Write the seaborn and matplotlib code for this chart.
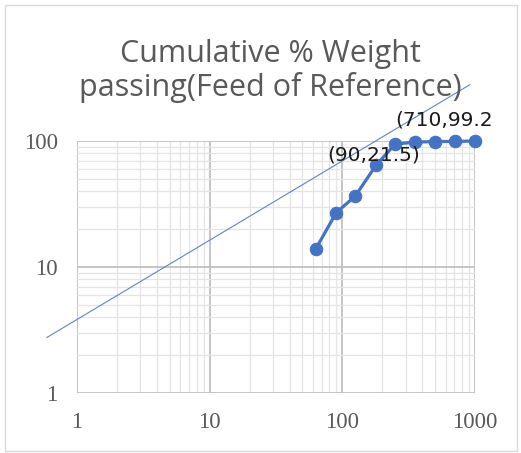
import matplotlib
matplotlib.use("Agg")
import matplotlib.pyplot as plt
import matplotlib.ticker as mticker
from matplotlib.patches import Rectangle
import seaborn as sns
import pandas as pd

# Data
sizes = [63, 90, 125, 180, 250, 355, 500, 710, 1000]
passing = [13.9, 27.0, 36.5, 64.5, 94.5, 98.0, 99.0, 99.2, 100.0]
trend_x = [0.59, 916]
trend_y = [2.75, 280]
x_ticks = [1, 10, 100, 1000]
y_ticks = [1, 10, 100]
title_text = "Cumulative % Weight\npassing(Feed of Reference)"
labels = [("(710,99.2", 395, 120), ("(90,21.5)", 327, 155)]

sns.set_style("white")
plt.rcParams['font.family'] = ['DejaVu Sans']

fig = plt.figure(figsize=(5.21, 4.53), dpi=100)
W, H = 521, 453
ax = fig.add_axes([77 / W, 1 - 393 / H, (475 - 77) / W, (393 - 141) / H])

blue = "#4472C4"
df = pd.DataFrame({"size": sizes, "passing": passing})
tr = pd.DataFrame({"x": trend_x, "y": trend_y})

ax.set_xscale("log")
ax.set_yscale("log")

sns.lineplot(data=tr, x="x", y="y", ax=ax, color="#6283c6", linewidth=0.8,
             clip_on=False, zorder=3)
sns.lineplot(data=df, x="size", y="passing", ax=ax, color=blue, linewidth=2.3,
             marker="o", markersize=9, markeredgecolor=blue, clip_on=False, zorder=4)

ax.set_xlim(1, 1000)
ax.set_ylim(1, 100)
ax.set_xlabel("")
ax.set_ylabel("")
for s in ax.spines.values():
    s.set_visible(False)

ax.xaxis.set_major_locator(mticker.FixedLocator(x_ticks))
ax.yaxis.set_major_locator(mticker.FixedLocator(y_ticks))
ax.set_xticklabels([str(v) for v in x_ticks])
ax.set_yticklabels([str(v) for v in y_ticks])
ax.xaxis.set_minor_locator(mticker.LogLocator(base=10, subs=range(2, 10)))
ax.yaxis.set_minor_locator(mticker.LogLocator(base=10, subs=range(2, 10)))
ax.xaxis.set_minor_formatter(mticker.NullFormatter())
ax.yaxis.set_minor_formatter(mticker.NullFormatter())
ax.grid(True, which="major", color="#c0c0c0", linewidth=1.3)
ax.grid(True, which="minor", color="#e4e4e4", linewidth=0.9)
ax.tick_params(which="both", length=0)
ax.tick_params(axis="x", pad=14)
ax.tick_params(axis="y", pad=14)
for lab in ax.get_xticklabels() + ax.get_yticklabels():
    lab.set_fontfamily("Liberation Serif")
    lab.set_fontsize(16.5)
    lab.set_color("#595959")

fig.text(270 / W, 1 - 71 / H, title_text, ha="center", va="center",
         fontsize=22, color="#595959", family="Open Sans", linespacing=1.1)

for txt, px, py in labels:
    fig.text(px / W, 1 - py / H, txt, ha="left", va="center",
             fontsize=14.5, color="#1a1a1a", family="DejaVu Sans", zorder=10)

fig.patches.append(Rectangle((5 / W, 1 - 451 / H), 512 / W, 446 / H,
                             transform=fig.transFigure, fill=False,
                             edgecolor="#d9d9d9", linewidth=1))

fig.savefig("out.png", dpi=100)
